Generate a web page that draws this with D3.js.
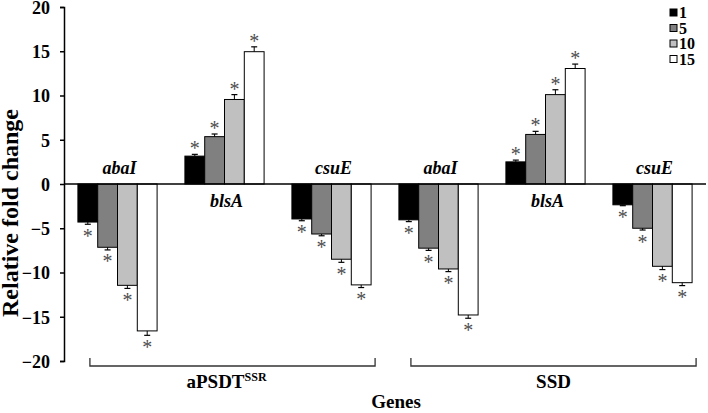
<!DOCTYPE html>
<html><head><meta charset="utf-8"><script src="https://cdn.jsdelivr.net/npm/d3@7"></script></head>
<body style="margin:0">
<svg id="chart" width="708" height="413" font-family="Liberation Serif" style="font-family:'Liberation Serif','Times New Roman',serif"></svg>
<script>
// ---- data ----
const genes = ["abaI", "blsA", "csuE", "abaI", "blsA", "csuE"];
const treatments = ["aPSDT", "SSD"];
const series = ["1", "5", "10", "15"];
const values1  = [-4.3,  3.15, -3.95, -4.05, 2.5,  -2.35];
const values5  = [-7.15, 5.35, -5.65, -7.25, 5.6,  -5.0];
const values10 = [-11.45, 9.55, -8.5, -9.6, 10.1, -9.3];
const values15 = [-16.6, 14.95, -11.4, -14.8, 13.05, -11.15];
const err1  = [0.25, 0.2, 0.2, 0.2, 0.2, 0.1];
const err5  = [0.3, 0.3, 0.2, 0.25, 0.35, 0.2];
const err10 = [0.35, 0.55, 0.35, 0.3, 0.55, 0.37];
const err15 = [0.5, 0.55, 0.3, 0.37, 0.5, 0.33];
const yTicks = [-20, -15, -10, -5, 0, 5, 10, 15, 20];

const colors = ["#000000", "#808080", "#c0c0c0", "#ffffff"];
const allValues = [values1, values5, values10, values15];
const allErr = [err1, err5, err10, err15];
const FONT = "Liberation Serif";

const svg = d3.select("#chart");
const y = d3.scaleLinear().domain([-20, 20]).range([361, 7]);
const x0 = d3.scaleBand().domain(d3.range(genes.length)).range([64, 706])
  .paddingInner(0.26).paddingOuter(0.13);
const x1 = d3.scaleBand().domain(series).range([0, x0.bandwidth()]);

function txt(sel) {
  return sel.append("text").attr("font-family", FONT).style("font-family", "'Liberation Serif', serif").attr("font-weight", "bold");
}

// bars
const groupG = svg.append("g").selectAll("g").data(genes).join("g")
  .attr("transform", (d, i) => `translate(${x0(i)},0)`);

groupG.each(function(g, gi) {
  const gsel = d3.select(this);
  series.forEach((s, si) => {
    const v = allValues[si][gi];
    const e = allErr[si][gi];
    const bx = x1(s), bw = x1.bandwidth();
    gsel.append("rect")
      .attr("x", bx).attr("width", bw)
      .attr("y", Math.min(y(v), y(0)))
      .attr("height", Math.abs(y(v) - y(0)))
      .attr("fill", colors[si]).attr("stroke", "#000").attr("stroke-width", 1);
    const ve = v < 0 ? v - e : v + e;
    const cx = bx + bw / 2;
    gsel.append("line").attr("x1", cx).attr("x2", cx)
      .attr("y1", y(v)).attr("y2", y(ve)).attr("stroke", "#000").attr("stroke-width", 1);
    gsel.append("line").attr("x1", cx - 3).attr("x2", cx + 3)
      .attr("y1", y(ve)).attr("y2", y(ve)).attr("stroke", "#000").attr("stroke-width", 1.2);
    const starCenter = v < 0 ? y(ve) + 9.5 : y(ve) - 8;
    txt(gsel).attr("font-weight", "normal").attr("x", cx).attr("y", starCenter + 9)
      .attr("text-anchor", "middle").attr("font-size", 20)
      .attr("fill", "#4d4d4d").text("*");
  });
  const neg = allValues[0][gi] < 0;
  txt(gsel).attr("x", x0.bandwidth() / 2 + 2)
    .attr("y", neg ? y(0) - 10 : y(0) + 23)
    .attr("text-anchor", "middle").attr("font-size", 18)
    .attr("font-style", "italic").text(g);
});

// y axis
const yAxis = svg.append("g").attr("transform", "translate(64,0)")
  .call(d3.axisLeft(y).tickValues(yTicks).tickSize(4).tickPadding(10).tickFormat(d3.format("d")));
yAxis.attr("font-family", FONT).attr("font-weight", "bold");
yAxis.selectAll("path, line").attr("stroke", "#000").attr("stroke-width", 1.5);
yAxis.selectAll("text").attr("font-family", FONT).style("font-family", "'Liberation Serif', serif")
  .attr("font-size", 18).attr("fill", "#000").attr("dy", "0.36em");

// zero line
svg.append("line").attr("x1", 64).attr("x2", 706).attr("y1", y(0)).attr("y2", y(0))
  .attr("stroke", "#000").attr("stroke-width", 1.5);

// y title
txt(svg).attr("transform", `translate(18,${(y(20)+y(-20))/2 + 29}) rotate(-90)`)
  .attr("text-anchor", "middle").attr("font-size", 24).text("Relative fold change");

// brackets
const brackets = [[0, 2], [3, 5]];
brackets.forEach((b, i) => {
  const l = x0(b[0]) + 12, r = x0(b[1]) + x0.bandwidth() + 4;
  svg.append("path").attr("d", `M${l},358V366H${r}V358`)
    .attr("fill", "none").attr("stroke", "#333").attr("stroke-width", 1.3);
  const t = txt(svg).attr("x", (l + r) / 2 - (i === 0 ? 6 : 0)).attr("y", 388)
    .attr("text-anchor", "middle").attr("font-size", 19);
  t.append("tspan").text(treatments[i]);
  if (i === 0) t.append("tspan").attr("font-size", 12).attr("dy", -7).text("SSR");
});

// x title
txt(svg).attr("x", 396).attr("y", 408).attr("text-anchor", "middle")
  .attr("font-size", 19).text("Genes");

// legend
const leg = svg.append("g").attr("transform", "translate(670,9)");
series.forEach((s, i) => {
  const row = leg.append("g").attr("transform", `translate(0,${i * 15.5})`);
  row.append("rect").attr("x", 0).attr("y", 0).attr("width", 7).attr("height", 7)
    .attr("fill", colors[i]).attr("stroke", "#000").attr("stroke-width", 1);
  txt(row).attr("x", 9).attr("y", 9).attr("font-size", 16).text(s);
});
</script>
</body>
</html>
